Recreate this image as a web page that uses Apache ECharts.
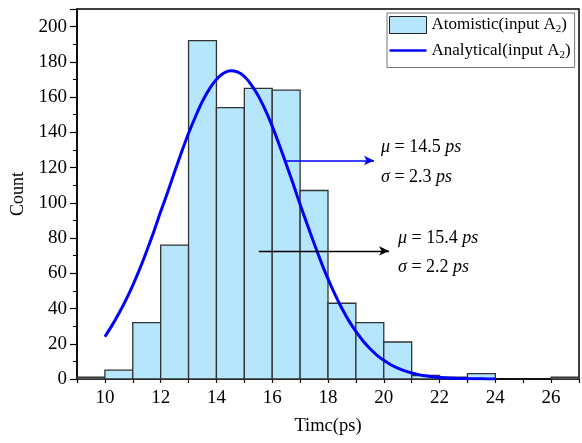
<!DOCTYPE html>
<html>
<head>
<meta charset="utf-8">
<script src="https://cdn.jsdelivr.net/npm/echarts@6/dist/echarts.min.js"></script>
<style>
  html, body { margin: 0; padding: 0; background: #fff; }
  #chart { width: 582px; height: 443px; }
</style>
</head>
<body>
<div id="chart"></div>
<script>
// histogram bins (left edge, right edge) and counts
var binStart = [9, 10, 11, 12, 13, 14, 15, 16, 17, 18, 19, 20, 21, 22, 23, 26];
var binEnd   = [10, 11, 12, 13, 14, 15, 16, 17, 18, 19, 20, 21, 22, 23, 24, 27];
var counts   = [1, 5, 32, 76, 192, 154, 165, 164, 107, 43, 32, 21, 2, 1, 3, 1];

// analytical curve
var curveX = [10, 10.25, 10.5, 10.75, 11, 11.25, 11.5, 11.75, 12, 12.25, 12.5, 12.75,
              13, 13.25, 13.5, 13.75, 14, 14.25, 14.5, 14.75, 15, 15.25, 15.5, 15.75,
              16, 16.25, 16.5, 16.75, 17, 17.25, 17.5, 17.75, 18, 18.25, 18.5, 18.75,
              19, 19.25, 19.5, 19.75, 20, 20.25, 20.5, 20.75, 21, 21.25, 21.5, 21.75,
              22, 22.5, 23, 23.5, 24];
var curveY = [24, 30.3, 37.2, 44.8, 53.2, 62.5, 72.7, 83.4, 95, 106, 117.6, 128.8,
              139.5, 149, 157.7, 164.7, 170, 173.5, 175, 174.3, 171.7, 167, 160.7, 152.7,
              143.5, 133, 122, 110.8, 99, 88, 77, 66.5, 56.8, 48, 40, 33,
              27, 21.7, 17.3, 13.6, 10.6, 8.1, 6.2, 4.6, 3.4, 2.5, 1.8, 1.3,
              0.9, 0.4, 0.2, 0.1, 0];

// annotation arrows: [x start, x end, y]
var arrowBlue  = [16.44, 19.65, 124];
var arrowBlack = [15.52, 20.19, 72.7];

var names = ['Atomistic(input A2)', 'Analytical(input A2)'];

var FONT = 'Liberation Serif';
var barFill = '#b5e6fb';

var histData = binStart.map(function (s, i) { return [s, binEnd[i], counts[i]]; });
var lineData = curveX.map(function (x, i) { return [x, curveY[i]]; });

function note(left, top, sym, val) {
  var st = { fontFamily: FONT, fontSize: 18, fontStyle: 'italic', color: '#000' };
  return {
    type: 'text', left: left, top: top,
    style: {
      text: '{i|' + sym + '} = ' + val + ' {i|ps}',
      fontFamily: FONT, fontSize: 18, fill: '#000',
      rich: { i: st }
    }
  };
}

var chart = echarts.init(document.getElementById('chart'));

chart.setOption({
  animation: false,
  backgroundColor: '#fff',
  grid: {
    left: 77, right: 2, top: 9, bottom: 64,
    show: true, borderColor: '#000', borderWidth: 1.5
  },
  legend: {
    orient: 'vertical',
    left: 387, top: 13,
    padding: [3, 4, 7, 2],
    itemGap: 7,
    itemWidth: 37, itemHeight: 17,
    backgroundColor: '#fff',
    borderColor: '#777', borderWidth: 1,
    data: [
      { name: names[0], icon: 'rect', itemStyle: { color: barFill, borderColor: '#222', borderWidth: 1 } },
      { name: names[1], icon: 'path://M0,0H37V2.5H0Z', itemStyle: { color: '#0000ff' } }
    ],
    formatter: function (name) {
      return '{t|' + name.slice(0, -2) + '}{s|2}{t|)}';
    },
    textStyle: {
      rich: {
        t: { fontFamily: FONT, fontSize: 17, color: '#000', lineHeight: 20 },
        s: { fontFamily: FONT, fontSize: 11, color: '#000', lineHeight: 20, verticalAlign: 'bottom' }
      }
    }
  },
  xAxis: {
    type: 'value',
    min: 9, max: 27, interval: 1,
    name: 'Timc(ps)',
    nameLocation: 'middle',
    nameGap: 38,
    nameTextStyle: { fontFamily: FONT, fontSize: 18.5, color: '#000' },
    axisLine: { lineStyle: { color: '#000', width: 1.5 } },
    axisTick: { length: 4, lineStyle: { color: '#000', width: 1.2 } },
    axisLabel: {
      margin: 10,
      fontFamily: FONT, fontSize: 19, color: '#000',
      formatter: function (v) { return v % 2 === 0 ? String(v) : ''; }
    },
    splitLine: { show: false }
  },
  yAxis: {
    type: 'value',
    min: 0, max: 210, interval: 20,
    name: 'Count',
    nameLocation: 'middle',
    nameGap: 43,
    nameTextStyle: { fontFamily: FONT, fontSize: 18, color: '#000' },
    axisLine: { show: true, lineStyle: { color: '#000', width: 1.5 } },
    axisTick: { show: true, length: 7, lineStyle: { color: '#000', width: 1.2 } },
    minorTick: { show: true, splitNumber: 2, length: 4, lineStyle: { color: '#000', width: 1 } },
    axisLabel: {
      margin: 10,
      fontFamily: FONT, fontSize: 19, color: '#000',
      showMaxLabel: false,
      formatter: function (v) { return v % 20 === 0 ? String(v) : ''; }
    },
    splitLine: { show: false }
  },
  series: [
    {
      name: names[0],
      type: 'custom',
      data: histData,
      encode: { x: [0, 1], y: 2 },
      itemStyle: { color: barFill, borderColor: '#222' },
      renderItem: function (params, api) {
        var p0 = api.coord([api.value(0), api.value(2)]);
        var p1 = api.coord([api.value(1), 0]);
        return {
          type: 'rect',
          shape: { x: p0[0], y: p0[1], width: p1[0] - p0[0], height: p1[1] - p0[1] },
          style: { fill: barFill, stroke: '#333', lineWidth: 1.3 }
        };
      },
      z: 2
    },
    {
      name: names[1],
      type: 'line',
      data: lineData,
      smooth: 0.3,
      symbol: 'none',
      showSymbol: false,
      lineStyle: { color: '#0000ff', width: 3 },
      itemStyle: { color: '#0000ff' },
      z: 3,
      markLine: {
        silent: true,
        symbol: ['none', 'arrow'],
        symbolSize: [7, 10],
        label: { show: false },
        data: [
          [
            { coord: [arrowBlue[0], arrowBlue[2]], lineStyle: { color: '#0000ff', width: 1.5, type: 'solid' } },
            { coord: [arrowBlue[1], arrowBlue[2]] }
          ],
          [
            { coord: [arrowBlack[0], arrowBlack[2]], lineStyle: { color: '#000', width: 1.3, type: 'solid' } },
            { coord: [arrowBlack[1], arrowBlack[2]] }
          ]
        ]
      }
    }
  ],
  graphic: [
    note(381, 138, 'μ', '14.5'),
    note(381, 168, 'σ', '2.3'),
    note(398, 229, 'μ', '15.4'),
    note(398, 258, 'σ', '2.2')
  ]
});
</script>
</body>
</html>
